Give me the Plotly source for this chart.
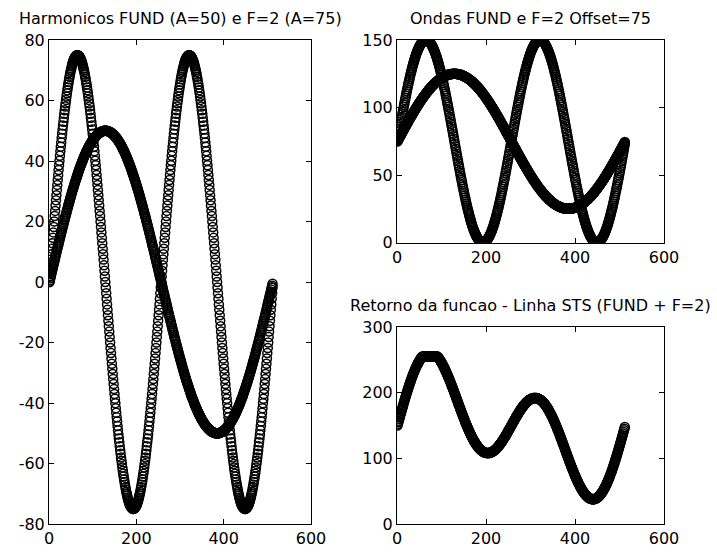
import plotly.graph_objects as go

# sample index (MATLAB style, 1..512)
N = list(range(1, 513))

# FUND wave (A=50)
FUND = [
 0.0, 0.6, 1.2, 1.8, 2.5, 3.1, 3.7, 4.3, 4.9, 5.5,
 6.1, 6.7, 7.3, 7.9, 8.5, 9.2, 9.8, 10.4, 11.0, 11.6,
 12.1, 12.7, 13.3, 13.9, 14.5, 15.1, 15.7, 16.3, 16.8, 17.4,
 18.0, 18.6, 19.1, 19.7, 20.3, 20.8, 21.4, 21.9, 22.5, 23.0,
 23.6, 24.1, 24.6, 25.2, 25.7, 26.2, 26.7, 27.3, 27.8, 28.3,
 28.8, 29.3, 29.8, 30.3, 30.8, 31.2, 31.7, 32.2, 32.7, 33.1,
 33.6, 34.0, 34.5, 34.9, 35.4, 35.8, 36.2, 36.6, 37.0, 37.5,
 37.9, 38.3, 38.7, 39.0, 39.4, 39.8, 40.2, 40.5, 40.9, 41.2,
 41.6, 41.9, 42.2, 42.6, 42.9, 43.2, 43.5, 43.8, 44.1, 44.4,
 44.7, 44.9, 45.2, 45.5, 45.7, 46.0, 46.2, 46.4, 46.6, 46.9,
 47.1, 47.3, 47.5, 47.7, 47.8, 48.0, 48.2, 48.3, 48.5, 48.6,
 48.8, 48.9, 49.0, 49.2, 49.3, 49.4, 49.5, 49.5, 49.6, 49.7,
 49.8, 49.8, 49.9, 49.9, 49.9, 50.0, 50.0, 50.0, 50.0,
 50.0, 50.0, 50.0, 49.9, 49.9, 49.9, 49.8, 49.8,
 49.7, 49.6, 49.5, 49.5, 49.4, 49.3, 49.2, 49.0, 48.9, 48.8,
 48.6, 48.5, 48.3, 48.2, 48.0, 47.8, 47.7, 47.5, 47.3, 47.1,
 46.9, 46.6, 46.4, 46.2, 46.0, 45.7, 45.5, 45.2, 44.9, 44.7,
 44.4, 44.1, 43.8, 43.5, 43.2, 42.9, 42.6, 42.2, 41.9, 41.6,
 41.2, 40.9, 40.5, 40.2, 39.8, 39.4, 39.0, 38.7, 38.3, 37.9,
 37.5, 37.0, 36.6, 36.2, 35.8, 35.4, 34.9, 34.5, 34.0, 33.6,
 33.1, 32.7, 32.2, 31.7, 31.2, 30.8, 30.3, 29.8, 29.3, 28.8,
 28.3, 27.8, 27.3, 26.7, 26.2, 25.7, 25.2, 24.6, 24.1, 23.6,
 23.0, 22.5, 21.9, 21.4, 20.8, 20.3, 19.7, 19.1, 18.6, 18.0,
 17.4, 16.8, 16.3, 15.7, 15.1, 14.5, 13.9, 13.3, 12.7, 12.1,
 11.6, 11.0, 10.4, 9.8, 9.2, 8.5, 7.9, 7.3, 6.7, 6.1,
 5.5, 4.9, 4.3, 3.7, 3.1, 2.5, 1.8, 1.2, 0.6,
 0.0, -0.6, -1.2, -1.8, -2.5, -3.1, -3.7, -4.3, -4.9, -5.5,
 -6.1, -6.7, -7.3, -7.9, -8.5, -9.2, -9.8, -10.4, -11.0, -11.6,
 -12.1, -12.7, -13.3, -13.9, -14.5, -15.1, -15.7, -16.3, -16.8, -17.4,
 -18.0, -18.6, -19.1, -19.7, -20.3, -20.8, -21.4, -21.9, -22.5, -23.0,
 -23.6, -24.1, -24.6, -25.2, -25.7, -26.2, -26.7, -27.3, -27.8, -28.3,
 -28.8, -29.3, -29.8, -30.3, -30.8, -31.2, -31.7, -32.2, -32.7, -33.1,
 -33.6, -34.0, -34.5, -34.9, -35.4, -35.8, -36.2, -36.6, -37.0, -37.5,
 -37.9, -38.3, -38.7, -39.0, -39.4, -39.8, -40.2, -40.5, -40.9, -41.2,
 -41.6, -41.9, -42.2, -42.6, -42.9, -43.2, -43.5, -43.8, -44.1, -44.4,
 -44.7, -44.9, -45.2, -45.5, -45.7, -46.0, -46.2, -46.4, -46.6, -46.9,
 -47.1, -47.3, -47.5, -47.7, -47.8, -48.0, -48.2, -48.3, -48.5, -48.6,
 -48.8, -48.9, -49.0, -49.2, -49.3, -49.4, -49.5, -49.5, -49.6, -49.7,
 -49.8, -49.8, -49.9, -49.9, -49.9, -50.0, -50.0, -50.0, -50.0,
 -50.0, -50.0, -50.0, -49.9, -49.9, -49.9, -49.8, -49.8,
 -49.7, -49.6, -49.5, -49.5, -49.4, -49.3, -49.2, -49.0, -48.9, -48.8,
 -48.6, -48.5, -48.3, -48.2, -48.0, -47.8, -47.7, -47.5, -47.3, -47.1,
 -46.9, -46.6, -46.4, -46.2, -46.0, -45.7, -45.5, -45.2, -44.9, -44.7,
 -44.4, -44.1, -43.8, -43.5, -43.2, -42.9, -42.6, -42.2, -41.9, -41.6,
 -41.2, -40.9, -40.5, -40.2, -39.8, -39.4, -39.0, -38.7, -38.3, -37.9,
 -37.5, -37.0, -36.6, -36.2, -35.8, -35.4, -34.9, -34.5, -34.0, -33.6,
 -33.1, -32.7, -32.2, -31.7, -31.2, -30.8, -30.3, -29.8, -29.3, -28.8,
 -28.3, -27.8, -27.3, -26.7, -26.2, -25.7, -25.2, -24.6, -24.1, -23.6,
 -23.0, -22.5, -21.9, -21.4, -20.8, -20.3, -19.7, -19.1, -18.6, -18.0,
 -17.4, -16.8, -16.3, -15.7, -15.1, -14.5, -13.9, -13.3, -12.7, -12.1,
 -11.6, -11.0, -10.4, -9.8, -9.2, -8.5, -7.9, -7.3, -6.7, -6.1,
 -5.5, -4.9, -4.3, -3.7, -3.1, -2.5, -1.8, -1.2, -0.6,
]

# F=2 wave (A=75)
F2 = [
 0.0, 1.8, 3.7, 5.5, 7.4, 9.2, 11.0, 12.8, 14.6, 16.4,
 18.2, 20.0, 21.8, 23.5, 25.3, 27.0, 28.7, 30.4, 32.1, 33.7,
 35.4, 37.0, 38.6, 40.1, 41.7, 43.2, 44.7, 46.1, 47.6, 49.0,
 50.4, 51.7, 53.0, 54.3, 55.6, 56.8, 58.0, 59.1, 60.2, 61.3,
 62.4, 63.4, 64.3, 65.3, 66.1, 67.0, 67.8, 68.6, 69.3, 70.0,
 70.6, 71.2, 71.8, 72.3, 72.8, 73.2, 73.6, 73.9, 74.2, 74.4,
 74.6, 74.8, 74.9, 75.0, 75.0,
 75.0, 74.9, 74.8, 74.6,
 74.4, 74.2, 73.9, 73.6, 73.2, 72.8, 72.3, 71.8, 71.2, 70.6,
 70.0, 69.3, 68.6, 67.8, 67.0, 66.1, 65.3, 64.3, 63.4, 62.4,
 61.3, 60.2, 59.1, 58.0, 56.8, 55.6, 54.3, 53.0, 51.7, 50.4,
 49.0, 47.6, 46.1, 44.7, 43.2, 41.7, 40.1, 38.6, 37.0, 35.4,
 33.7, 32.1, 30.4, 28.7, 27.0, 25.3, 23.5, 21.8, 20.0, 18.2,
 16.4, 14.6, 12.8, 11.0, 9.2, 7.4, 5.5, 3.7, 1.8,
 0.0, -1.8, -3.7, -5.5, -7.4, -9.2, -11.0, -12.8, -14.6, -16.4,
 -18.2, -20.0, -21.8, -23.5, -25.3, -27.0, -28.7, -30.4, -32.1, -33.7,
 -35.4, -37.0, -38.6, -40.1, -41.7, -43.2, -44.7, -46.1, -47.6, -49.0,
 -50.4, -51.7, -53.0, -54.3, -55.6, -56.8, -58.0, -59.1, -60.2, -61.3,
 -62.4, -63.4, -64.3, -65.3, -66.1, -67.0, -67.8, -68.6, -69.3, -70.0,
 -70.6, -71.2, -71.8, -72.3, -72.8, -73.2, -73.6, -73.9, -74.2, -74.4,
 -74.6, -74.8, -74.9, -75.0, -75.0,
 -75.0, -74.9, -74.8, -74.6,
 -74.4, -74.2, -73.9, -73.6, -73.2, -72.8, -72.3, -71.8, -71.2, -70.6,
 -70.0, -69.3, -68.6, -67.8, -67.0, -66.1, -65.3, -64.3, -63.4, -62.4,
 -61.3, -60.2, -59.1, -58.0, -56.8, -55.6, -54.3, -53.0, -51.7, -50.4,
 -49.0, -47.6, -46.1, -44.7, -43.2, -41.7, -40.1, -38.6, -37.0, -35.4,
 -33.7, -32.1, -30.4, -28.7, -27.0, -25.3, -23.5, -21.8, -20.0, -18.2,
 -16.4, -14.6, -12.8, -11.0, -9.2, -7.4, -5.5, -3.7, -1.8,
 0.0, 1.8, 3.7, 5.5, 7.4, 9.2, 11.0, 12.8, 14.6, 16.4,
 18.2, 20.0, 21.8, 23.5, 25.3, 27.0, 28.7, 30.4, 32.1, 33.7,
 35.4, 37.0, 38.6, 40.1, 41.7, 43.2, 44.7, 46.1, 47.6, 49.0,
 50.4, 51.7, 53.0, 54.3, 55.6, 56.8, 58.0, 59.1, 60.2, 61.3,
 62.4, 63.4, 64.3, 65.3, 66.1, 67.0, 67.8, 68.6, 69.3, 70.0,
 70.6, 71.2, 71.8, 72.3, 72.8, 73.2, 73.6, 73.9, 74.2, 74.4,
 74.6, 74.8, 74.9, 75.0, 75.0,
 75.0, 74.9, 74.8, 74.6,
 74.4, 74.2, 73.9, 73.6, 73.2, 72.8, 72.3, 71.8, 71.2, 70.6,
 70.0, 69.3, 68.6, 67.8, 67.0, 66.1, 65.3, 64.3, 63.4, 62.4,
 61.3, 60.2, 59.1, 58.0, 56.8, 55.6, 54.3, 53.0, 51.7, 50.4,
 49.0, 47.6, 46.1, 44.7, 43.2, 41.7, 40.1, 38.6, 37.0, 35.4,
 33.7, 32.1, 30.4, 28.7, 27.0, 25.3, 23.5, 21.8, 20.0, 18.2,
 16.4, 14.6, 12.8, 11.0, 9.2, 7.4, 5.5, 3.7, 1.8,
 0.0, -1.8, -3.7, -5.5, -7.4, -9.2, -11.0, -12.8, -14.6, -16.4,
 -18.2, -20.0, -21.8, -23.5, -25.3, -27.0, -28.7, -30.4, -32.1, -33.7,
 -35.4, -37.0, -38.6, -40.1, -41.7, -43.2, -44.7, -46.1, -47.6, -49.0,
 -50.4, -51.7, -53.0, -54.3, -55.6, -56.8, -58.0, -59.1, -60.2, -61.3,
 -62.4, -63.4, -64.3, -65.3, -66.1, -67.0, -67.8, -68.6, -69.3, -70.0,
 -70.6, -71.2, -71.8, -72.3, -72.8, -73.2, -73.6, -73.9, -74.2, -74.4,
 -74.6, -74.8, -74.9, -75.0, -75.0,
 -75.0, -74.9, -74.8, -74.6,
 -74.4, -74.2, -73.9, -73.6, -73.2, -72.8, -72.3, -71.8, -71.2, -70.6,
 -70.0, -69.3, -68.6, -67.8, -67.0, -66.1, -65.3, -64.3, -63.4, -62.4,
 -61.3, -60.2, -59.1, -58.0, -56.8, -55.6, -54.3, -53.0, -51.7, -50.4,
 -49.0, -47.6, -46.1, -44.7, -43.2, -41.7, -40.1, -38.6, -37.0, -35.4,
 -33.7, -32.1, -30.4, -28.7, -27.0, -25.3, -23.5, -21.8, -20.0, -18.2,
 -16.4, -14.6, -12.8, -11.0, -9.2, -7.4, -5.5, -3.7, -1.8,
]

OFFSET = 75      # "Offset=75" in the upper-right title
SAT = 255        # the STS line saturates at 255

TITLES = ["Harmonicos FUND (A=50) e F=2 (A=75)",
          "Ondas FUND e F=2 Offset=75",
          "Retorno da funcao - Linha STS (FUND + F=2)"]
X_TICKS = [0, 200, 400, 600]
Y1_TICKS = [-80, -60, -40, -20, 0, 20, 40, 60, 80]
Y2_TICKS = [0, 50, 100, 150]
Y3_TICKS = [0, 100, 200, 300]

assert len(FUND) == 512 and len(F2) == 512, (len(FUND), len(F2))

FUND_OFF = [v + OFFSET for v in FUND]
F2_OFF = [v + OFFSET for v in F2]
STS = [min(SAT, a + b) for a, b in zip(FUND_OFF, F2_OFF)]

W, H = 717, 554
def dx(px): return px / W
def dy(py): return 1 - py / H

FONT = dict(family="DejaVu Sans", size=16, color="black")
MK = dict(symbol="circle-open", size=9, color="black", line=dict(width=1.5, color="black"))

fig = go.Figure()
for ys, ax in [(FUND, ""), (F2, ""), (FUND_OFF, "2"), (F2_OFF, "2"), (STS, "3")]:
    fig.add_trace(go.Scatter(x=N, y=ys, mode="markers", marker=MK,
                             xaxis="x" + ax, yaxis="y" + ax,
                             showlegend=False, hoverinfo="skip"))

def axis(dom, rng, ticks, anchor):
    return dict(domain=dom, range=rng, tickvals=ticks, ticktext=[str(t) for t in ticks],
                showline=True, linecolor="black", linewidth=1, mirror="ticks",
                ticks="inside", ticklen=5, tickcolor="black", tickwidth=1,
                showgrid=False, zeroline=False, tickfont=FONT, anchor=anchor,
                automargin=False, fixedrange=True)

L = [dx(49), dx(311)]
R = [dx(397), dx(664)]
Y_L = [dy(524), dy(40)]
Y_UR = [dy(242.5), dy(40)]
Y_LR = [dy(524), dy(327)]

fig.update_layout(
    template="none",
    width=W, height=H, margin=dict(l=0, r=0, t=0, b=0, autoexpand=False),
    paper_bgcolor="white", plot_bgcolor="white",
    xaxis=axis(L, [0, 600], X_TICKS, "y"),
    yaxis=axis(Y_L, [-80, 80], Y1_TICKS, "x"),
    xaxis2=axis(R, [0, 600], X_TICKS, "y2"),
    yaxis2=axis(Y_UR, [0, 150], Y2_TICKS, "x2"),
    xaxis3=axis(R, [0, 600], X_TICKS, "y3"),
    yaxis3=axis(Y_LR, [0, 300], Y3_TICKS, "x3"),
)

for t, xd, ytop in [(TITLES[0], L, Y_L[1]), (TITLES[1], R, Y_UR[1]), (TITLES[2], R, Y_LR[1])]:
    fig.add_annotation(text=t, x=(xd[0] + xd[1]) / 2, y=ytop, xref="paper", yref="paper",
                       xanchor="center", yanchor="bottom", yshift=10, showarrow=False,
                       font=FONT)

fig.write_html("out.html", config={"displayModeBar": False},
               post_script="document.body.style.margin='0';document.body.style.overflow='hidden';")
